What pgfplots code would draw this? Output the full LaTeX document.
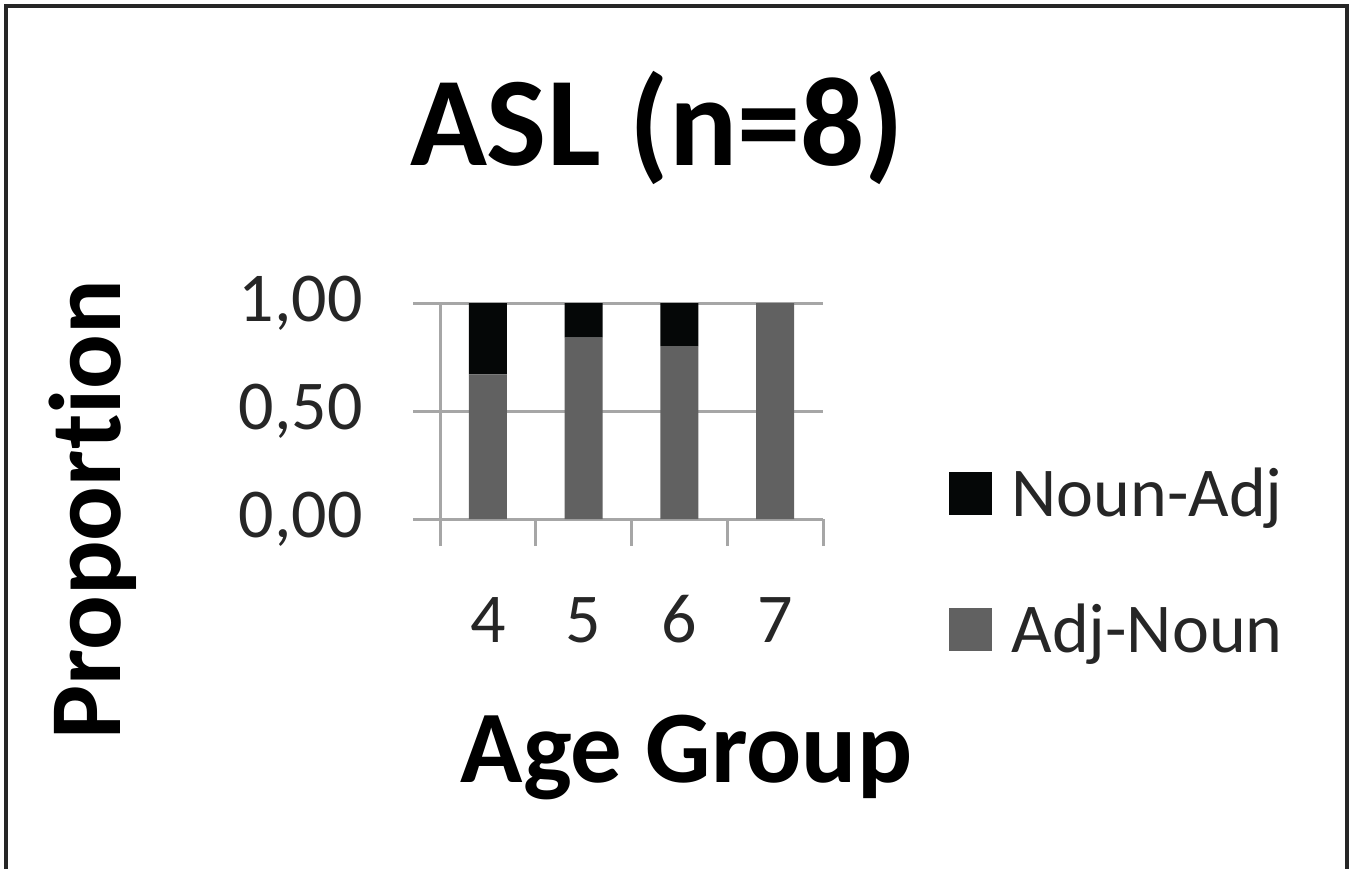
\documentclass[border=0pt]{standalone}
\usepackage{fontspec}
\setmainfont{Carlito}[Ligatures={NoCommon}]
\usepackage{pgfplots}
\pgfplotsset{compat=1.18}
\definecolor{gridgray}{HTML}{A6A6A6}
\definecolor{adjnoun}{HTML}{616161}
\definecolor{nounadj}{HTML}{050707}

\begin{document}
\begin{tikzpicture}
  \useasboundingbox (0,0) rectangle (677.5pt,434.5pt);
  % outer frame (bottom edge is cut off in the original)
  \draw[line width=2pt, color=black!85] (3pt,0pt) -- (3pt,431.5pt) -- (673.5pt,431.5pt) -- (673.5pt,0pt);
  \begin{axis}[
    at={(220pt,175pt)}, anchor=south west,
    scale only axis,
    width=191.5pt, height=108pt,
    ybar stacked,
    bar width=19pt,
    xmin=-0.5, xmax=3.5,
    ymin=0, ymax=1,
    enlargelimits=false,
    axis x line=bottom, axis y line=left,
    axis line style={-, draw=gridgray, line width=1.5pt},
    xtick={-0.5,0.5,1.5,2.5,3.5},
    x tick label as interval,
    xticklabels={4,5,6,7},
    ytick={0,0.5,1},
    /pgf/number format/.cd, fixed, fixed zerofill, precision=2, use comma, assume math mode=true,
    /pgfplots/.cd,
    tick align=outside,
    major tick length=13.5pt,
    tick style={draw=gridgray, line width=1.5pt},
    ymajorgrids=true,
    grid style={draw=gridgray, line width=1.5pt},
    ticklabel style={font=\fontsize{35}{42}\selectfont, text=black!85},
    yticklabel style={inner xsep=0pt, xshift=-25pt},
    xticklabel style={inner sep=0pt, anchor=base, yshift=-48pt},
    title={ASL (n=8)},
    title style={font=\fontsize{63.5}{70}\selectfont\bfseries, at={(axis description cs:0.567,1.58)}, anchor=base, inner sep=0pt},
    xlabel={Age Group},
    xlabel style={font=\fontsize{51.4}{60}\selectfont\bfseries, at={(axis description cs:0.644,-1.222)}, anchor=base, inner sep=0pt},
    ylabel={Proportion},
    ylabel style={font=\fontsize{51}{60}\selectfont\bfseries, at={(axis description cs:-0.835,0.042)}, anchor=base, inner sep=0pt},
    legend style={draw=none, at={(axis description cs:1.311,0.273)}, anchor=north west,
      font=\fontsize{35}{42}\selectfont, text=black!85,
      nodes={inner sep=0pt, text height=26pt, text depth=8pt},
      row sep=34pt,
      /tikz/every odd column/.append style={column sep=10pt}},
    legend cell align=left,
    reverse legend,
    legend image code/.code={\fill[#1] (0pt,-8.5pt) rectangle (21.5pt,13pt);},
  ]
    \addplot[fill=adjnoun, draw=none] coordinates {(0,0.67) (1,0.84) (2,0.80) (3,1.00)};
    \addplot[fill=nounadj, draw=none] coordinates {(0,0.33) (1,0.16) (2,0.20) (3,0.00)};
    \legend{Adj-Noun, Noun-Adj}
  \end{axis}
\end{tikzpicture}
\end{document}
